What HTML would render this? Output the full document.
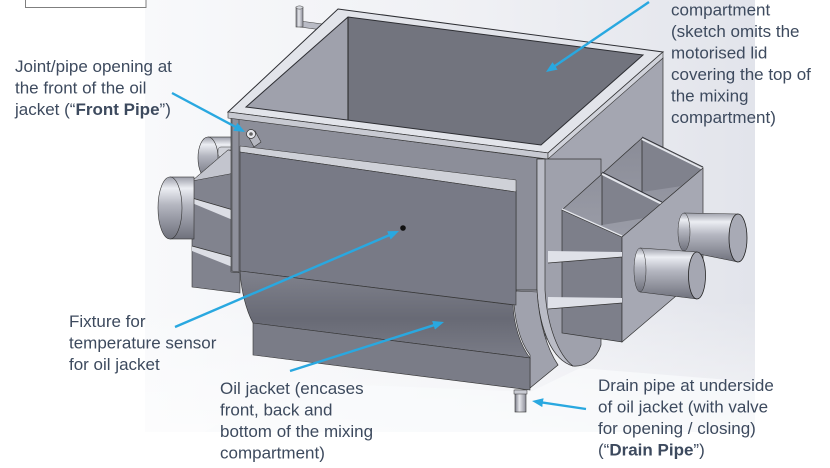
<!DOCTYPE html>
<html><head><meta charset="utf-8">
<style>
html,body{margin:0;padding:0;background:#fff;}
svg{display:block;}
text{font-family:"Liberation Sans",Arial,sans-serif;font-size:17px;fill:#3d4a5e;}
</style></head><body>
<svg width="830" height="468" viewBox="0 0 830 468" xmlns="http://www.w3.org/2000/svg">
<defs>
 <linearGradient id="bg" x1="0" y1="0" x2="1" y2="0">
  <stop offset="0" stop-color="#f8f9fb"/>
  <stop offset="0.55" stop-color="#eff0f4"/>
  <stop offset="1" stop-color="#e2e4eb"/>
 </linearGradient>
 <linearGradient id="fl" x1="0" y1="0" x2="0" y2="1">
  <stop offset="0" stop-color="#ffffff" stop-opacity="0"/>
  <stop offset="1" stop-color="#ffffff" stop-opacity="0.6"/>
 </linearGradient>
 <linearGradient id="cyl" x1="0" y1="0" x2="0" y2="1">
  <stop offset="0" stop-color="#9c9ea9"/>
  <stop offset="0.18" stop-color="#eceef3"/>
  <stop offset="0.45" stop-color="#b4b6c0"/>
  <stop offset="1" stop-color="#6f717c"/>
 </linearGradient>
 <linearGradient id="cylv" x1="0" y1="0" x2="1" y2="0">
  <stop offset="0" stop-color="#7a7c87"/>
  <stop offset="0.4" stop-color="#e6e7ec"/>
  <stop offset="1" stop-color="#8a8c97"/>
 </linearGradient>
 <linearGradient id="curve" x1="0" y1="0" x2="0" y2="1">
  <stop offset="0" stop-color="#80828d"/>
  <stop offset="0.55" stop-color="#686a75"/>
  <stop offset="1" stop-color="#7a7c87"/>
 </linearGradient>
 <linearGradient id="fin" x1="0" y1="0" x2="0" y2="1">
  <stop offset="0" stop-color="#8a8c97"/>
  <stop offset="1" stop-color="#9a9ca7"/>
 </linearGradient>
 <marker id="ah" markerUnits="userSpaceOnUse" markerWidth="12" markerHeight="10" refX="7" refY="4.5" orient="auto">
  <path d="M0,0 L11,4.5 L0,9 Z" fill="#29a8e0"/>
 </marker>
</defs>

<rect x="145" y="0" width="610" height="432" fill="url(#bg)"/>
<rect x="145" y="300" width="610" height="132" fill="url(#fl)"/>
<polygon points="205,432 290,382 530,392 580,368 755,382 755,432" fill="#fafbfc" opacity="0.7"/>

<rect x="25.5" y="-2" width="120.5" height="9.5" fill="#fff" stroke="#7f7f7f" stroke-width="1"/>

<polygon points="300,21 330,25 330,31 300,27" fill="#b9bbc5" stroke="#444" stroke-width="0.6"/>
<rect x="296" y="7" width="7" height="20" fill="url(#cylv)" stroke="#444" stroke-width="0.6"/>
<ellipse cx="299.5" cy="7.5" rx="3.5" ry="1.6" fill="#d8dae0" stroke="#444" stroke-width="0.5"/>

<rect x="208" y="137" width="32" height="42" fill="url(#cyl)" stroke="#333" stroke-width="0.6"/>
<ellipse cx="208" cy="158" rx="10" ry="21" fill="url(#cyl)" stroke="#333" stroke-width="0.6"/>
<rect x="218" y="147" width="22" height="10" rx="3" fill="#cfd1d8" stroke="#444" stroke-width="0.5"/>

<polygon points="192,181 228,150 240,150 240,293 192,287" fill="#81838e" stroke="#333" stroke-width="0.6"/>
<polygon points="192,181 228,150 240,152 240,172" fill="#c3c5ce" stroke="#333" stroke-width="0.5"/>
<polygon points="192,198 240,212 240,223 192,203" fill="#dcdee5"/>
<line x1="192" y1="198" x2="240" y2="212" stroke="#333" stroke-width="0.8"/>
<polygon points="192,246 240,259 240,270 192,251" fill="#dcdee5"/>
<line x1="192" y1="246" x2="240" y2="259" stroke="#333" stroke-width="0.8"/>

<rect x="170" y="177" width="24" height="62" fill="url(#cyl)" stroke="#333" stroke-width="0.6"/>
<ellipse cx="170" cy="208" rx="12" ry="31" fill="url(#cyl)" stroke="#333" stroke-width="0.6"/>

<polygon points="545,159 663,58 663,260 545,340" fill="#a4a6b1" stroke="#333" stroke-width="0.7"/>

<polygon points="231,118 545,159 545,300 231,272" fill="#8c8e99" stroke="#333" stroke-width="0.6"/>
<polygon points="232,118 239,119 239,272 232,271" fill="#8e909b" stroke="#333" stroke-width="0.5"/>

<polygon points="246,107 348,17 643,55 541,145" fill="#72747e"/>
<polygon points="246,107 348,17 348,120" fill="#9fa1ac"/>
<line x1="348" y1="17" x2="348" y2="120" stroke="#222" stroke-width="1"/>

<path d="M338,9 L663,52 L548,153 L228,112 Z M348,17 L246,107 L541,145 L643,55 Z" fill="#e2e4ea" fill-rule="evenodd" stroke="#2d2e33" stroke-width="1"/>
<polygon points="228,112 548,153 548,159 228,118" fill="#c8cad2" stroke="#333" stroke-width="0.6"/>
<polygon points="548,153 663,52 663,58 548,159" fill="#d0d2da" stroke="#333" stroke-width="0.6"/>

<path d="M537,159 L601,159 L601,345 C596,360 585,367 573,366 C552,360 540,330 537,292 Z" fill="#9fa1ac" stroke="#333" stroke-width="0.7"/>
<path d="M537,159 L545,159 L545,290 C547,325 558,355 573,366 C552,360 540,330 537,292 Z" fill="#babcc6" stroke="#333" stroke-width="0.7"/>

<path d="M513,290 C514,320 520,342 530,355 L530,388 L558,365 C548,350 539,325 537,290 Z" fill="#a0a2ad" stroke="#333" stroke-width="0.7"/>
<line x1="516" y1="190" x2="516" y2="292" stroke="#333" stroke-width="0.7"/>
<line x1="516" y1="291" x2="537" y2="292" stroke="#333" stroke-width="0.6"/>

<polygon points="562,210 642,138 703,168 622,237" fill="url(#fin)" stroke="#333" stroke-width="0.7"/>
<polygon points="642,138 703,168 682,186 642,192" fill="#80828d"/>
<polygon points="602,173 662,203 645,218 602,225" fill="#80828d"/>
<line x1="642" y1="138" x2="642" y2="192" stroke="#333" stroke-width="0.8"/>
<line x1="602" y1="173" x2="602" y2="225" stroke="#333" stroke-width="0.8"/>
<line x1="642" y1="139" x2="703" y2="169" stroke="#e4e6ec" stroke-width="2"/>
<line x1="602" y1="174" x2="662" y2="204" stroke="#e4e6ec" stroke-width="2"/>
<line x1="642" y1="137" x2="703" y2="167" stroke="#2e2f35" stroke-width="0.9"/>
<line x1="602" y1="172" x2="662" y2="202" stroke="#2e2f35" stroke-width="0.9"/>

<polygon points="562,210 622,237 622,342 562,333" fill="#7d7f8a" stroke="#333" stroke-width="0.7"/>
<polygon points="622,237 703,168 703,273 622,342" fill="#a6a8b3" stroke="#333" stroke-width="0.7"/>
<line x1="562" y1="209" x2="622" y2="236" stroke="#e4e6ec" stroke-width="1.5"/>

<polygon points="548,251 622,252 622,257 548,263" fill="#dfe1e8"/>
<line x1="548" y1="263" x2="622" y2="257" stroke="#333" stroke-width="0.8"/>
<polygon points="548,297 622,298 622,303 548,309" fill="#dfe1e8"/>
<line x1="548" y1="309" x2="622" y2="303" stroke="#333" stroke-width="0.8"/>

<polygon points="684,213 738,214 738,262 684,251" fill="url(#cyl)"/>
<ellipse cx="684" cy="232" rx="6" ry="19" fill="url(#cyl)" stroke="#333" stroke-width="0.5"/>
<line x1="684" y1="213" x2="738" y2="214" stroke="#333" stroke-width="0.6"/>
<line x1="684" y1="251" x2="738" y2="262" stroke="#333" stroke-width="0.6"/>
<ellipse cx="738" cy="238" rx="9" ry="24" fill="#a8aab5" stroke="#222" stroke-width="0.8"/>

<polygon points="640,248 697,252 697,299 640,292" fill="url(#cyl)"/>
<ellipse cx="640" cy="270" rx="6" ry="22" fill="url(#cyl)" stroke="#333" stroke-width="0.5"/>
<line x1="640" y1="248" x2="697" y2="252" stroke="#333" stroke-width="0.6"/>
<line x1="640" y1="292" x2="697" y2="299" stroke="#333" stroke-width="0.6"/>
<ellipse cx="697" cy="275.5" rx="8.5" ry="23.5" fill="#a5a7b2" stroke="#222" stroke-width="0.8"/>

<polygon points="240,146 516,180 516,192 240,152" fill="#cfd1d8" stroke="#333" stroke-width="0.5"/>
<polygon points="240,152 516,192 516,305 240,271" fill="#787a86" stroke="#333" stroke-width="0.6"/>
<path d="M240,271 L513,305 C514,325 520,345 530,358 L253,323 C246,310 241,290 240,271 Z" fill="url(#curve)" stroke="#333" stroke-width="0.6"/>
<polygon points="253,323 530,358 530,390 253,355" fill="#7a7c87" stroke="#333" stroke-width="0.6"/>

<rect x="515" y="390" width="11" height="22" fill="url(#cylv)" stroke="#333" stroke-width="0.6"/>
<rect x="514" y="390" width="13" height="4" fill="#c9cbd3" stroke="#333" stroke-width="0.5"/>

<circle cx="403" cy="228" r="2.8" fill="#111"/>
<polygon points="248,136 255,131 261,142 254,147" fill="#b5b7c0" stroke="#333" stroke-width="0.6"/>
<circle cx="251" cy="134" r="4.5" fill="#e6e7ec" stroke="#333" stroke-width="0.7"/>
<circle cx="251" cy="134" r="1.8" fill="#666"/>

<g stroke="#29a8e0" stroke-width="2.4" marker-end="url(#ah)" fill="none">
 <line x1="172" y1="93" x2="241.5" y2="130.1"/>
 <line x1="649" y1="2" x2="549.3" y2="69.8"/>
 <line x1="175" y1="327" x2="395.3" y2="232.6"/>
 <line x1="290" y1="371" x2="440.2" y2="323.2"/>
 <line x1="586" y1="409" x2="536" y2="401.6"/>
</g>

<text x="15" y="72">Joint/pipe opening at</text>
<text x="15" y="93.5">the front of the oil</text>
<text x="15" y="115">jacket (“<tspan font-weight="bold">Front Pipe</tspan>”)</text>

<text x="671" y="15.7">compartment</text>
<text x="671" y="37.2">(sketch omits the</text>
<text x="671" y="58.7">motorised lid</text>
<text x="671" y="80.2">covering the top of</text>
<text x="671" y="101.7">the mixing</text>
<text x="671" y="123.2">compartment)</text>

<text x="69" y="327">Fixture for</text>
<text x="69" y="348.5">temperature sensor</text>
<text x="69" y="370">for oil jacket</text>

<text x="220" y="394">Oil jacket (encases</text>
<text x="220" y="415.5">front, back and</text>
<text x="220" y="437">bottom of the mixing</text>
<text x="220" y="458.5">compartment)</text>

<text x="598" y="391">Drain pipe at underside</text>
<text x="598" y="412.5">of oil jacket (with valve</text>
<text x="598" y="434">for opening / closing)</text>
<text x="598" y="455.5">(“<tspan font-weight="bold">Drain Pipe</tspan>”)</text>
</svg>
</body></html>
